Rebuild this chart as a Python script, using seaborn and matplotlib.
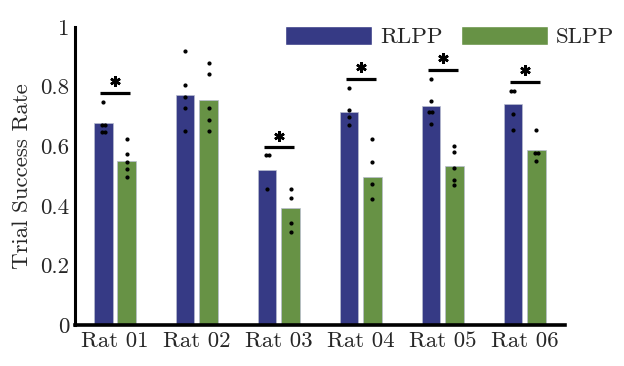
import numpy as np
import pandas as pd
import matplotlib
matplotlib.use("Agg")
import matplotlib.pyplot as plt
from matplotlib.patches import Patch
import seaborn as sns

rats = ["Rat 01", "Rat 02", "Rat 03", "Rat 04", "Rat 05", "Rat 06"]
methods = ["RLPP", "SLPP"]
rlpp_mean = [0.678, 0.771, 0.521, 0.716, 0.735, 0.743]
slpp_mean = [0.551, 0.756, 0.392, 0.497, 0.534, 0.586]
rlpp_pts = [[0.747, 0.672, 0.672, 0.648, 0.648],
            [0.919, 0.804, 0.766, 0.728, 0.651],
            [0.569, 0.569, 0.455],
            [0.796, 0.723, 0.697, 0.672],
            [0.826, 0.752, 0.714, 0.714, 0.675],
            [0.786, 0.786, 0.707, 0.655]]
slpp_pts = [[0.623, 0.573, 0.547, 0.522, 0.498],
            [0.880, 0.842, 0.728, 0.689, 0.651],
            [0.455, 0.426, 0.341, 0.312],
            [0.623, 0.547, 0.473, 0.423],
            [0.601, 0.582, 0.526, 0.488, 0.469],
            [0.655, 0.576, 0.576, 0.550]]
sig_y = [0.779, None, 0.597, 0.826, 0.856, 0.817]
yticks = [0, 0.2, 0.4, 0.6, 0.8, 1]
ytick_labels = ["0", "0.2", "0.4", "0.6", "0.8", "1"]

colors = {"RLPP": "#363a85", "SLPP": "#679245"}

sns.set_style("white")
plt.rcParams["font.family"] = ["cmr10", "DejaVu Serif"]
plt.rcParams["mathtext.fontset"] = "cm"
plt.rcParams["axes.unicode_minus"] = False
fs = 16.5

df = pd.DataFrame({
    "Rat": rats * 2,
    "Method": ["RLPP"] * 6 + ["SLPP"] * 6,
    "Rate": rlpp_mean + slpp_mean,
})

fig = plt.figure(figsize=(6.24, 3.66), dpi=100)
ax = fig.add_axes([0.120, 0.112, 0.785, 0.814])
width = 0.572
sns.barplot(data=df, x="Rat", y="Rate", hue="Method", order=rats,
            hue_order=methods, palette=colors, width=width, gap=0.21,
            errorbar=None, ax=ax, legend=False, saturation=1,
            edgecolor="#b8bccf", linewidth=0.5)

# individual points
off = width / 4
for j, pts_all in enumerate([rlpp_pts, slpp_pts]):
    for i, pts in enumerate(pts_all):
        vals, counts = np.unique(pts, return_counts=True)
        for v, c in zip(vals, counts):
            xs = i + (2 * j - 1) * off + (np.arange(c) - (c - 1) / 2) * 0.036
            ax.plot(xs, [v] * c, "o", color="black", markersize=2.0, zorder=4)

# significance bars + stars
for i, s in enumerate(sig_y):
    if s is None:
        continue
    ax.plot([i - 0.183, i + 0.183], [s, s], color="black", lw=2.3,
            solid_capstyle="butt", zorder=4)
    ax.plot(i, s + 0.039, marker=(6, 2, 0), markersize=7.5, mew=1.8,
            color="black", zorder=4)

ax.set_ylim(0, 1)
ax.set_xlim(-0.49, 5.49)
ax.set_yticks(yticks)
ax.set_yticklabels(ytick_labels)
ax.set_xlabel("")
ax.set_ylabel("Trial Success Rate", fontsize=fs, labelpad=6)
ax.tick_params(axis="y", direction="in", length=5, width=2.2, labelsize=fs, pad=4)
ax.tick_params(axis="x", direction="in", length=5, width=3, labelsize=fs, pad=5)
for sp in ["top", "right"]:
    ax.spines[sp].set_visible(False)
ax.spines["left"].set_linewidth(2.2)
ax.spines["bottom"].set_linewidth(2.6)
ax.spines["left"].set_color("black")
ax.spines["bottom"].set_color("black")

handles = [Patch(facecolor=colors[m], label=m) for m in methods]
ax.legend(handles=handles, loc="center left", bbox_to_anchor=(285 / 624, 1 - 36.5 / 366),
          bbox_transform=fig.transFigure, ncol=2, frameon=False, fontsize=fs,
          handlelength=3.8, handleheight=0.9, handletextpad=0.35,
          columnspacing=0.8, borderpad=0, borderaxespad=0)

fig.savefig("out.png", dpi=100)
